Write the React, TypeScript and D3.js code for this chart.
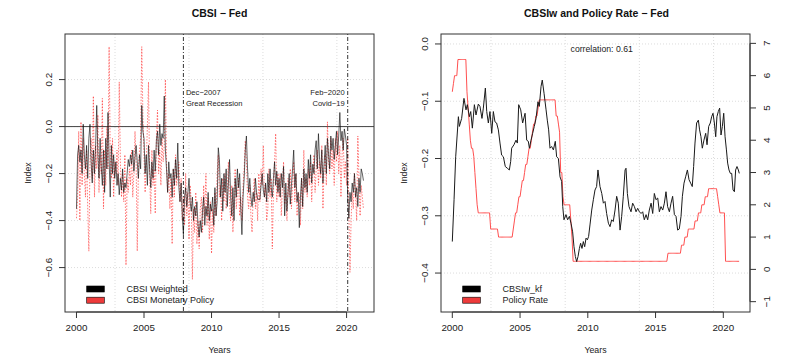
import React, { useEffect, useRef } from "react";
import * as d3 from "d3";

// monthly series, first value = Jan 2000
const START_YEAR = 2000;

const cbsiWeighted = [
  -0.35, -0.12, -0.08, -0.15, -0.1, -0.2, 0.01, -0.12, -0.18, -0.08, -0.22, -0.05,
  0.01, -0.15, -0.24, -0.1, -0.2, -0.08, 0.09, -0.12, -0.22, -0.05, -0.17, -0.25,
  -0.1, -0.28, -0.05, -0.18, 0.06, -0.14, -0.3, -0.08, -0.2, -0.12, -0.22, -0.15,
  -0.25, -0.2, -0.29, -0.22, -0.27, -0.18, -0.28, -0.24, -0.26, -0.2, -0.14, -0.17,
  -0.12, -0.16, -0.1, -0.19, -0.13, -0.08, -0.15, -0.22, -0.12, -0.18, 0.09, -0.02,
  -0.05, -0.2, -0.12, -0.25, -0.08, -0.18, -0.26, -0.15, -0.22, -0.1, -0.19, -0.06,
  -0.02, -0.12, 0.01, -0.08, -0.03, -0.05, 0.13, -0.1, -0.18, -0.28, -0.15, -0.22,
  -0.2, -0.3, -0.18, -0.25, -0.14, -0.22, -0.07, -0.26, -0.32, -0.24, -0.38, -0.46,
  -0.3, -0.26, -0.34, -0.28, -0.22, -0.32, -0.36, -0.3, -0.4, -0.34, -0.38, -0.32,
  -0.42, -0.47, -0.4, -0.45, -0.36, -0.3, -0.42, -0.34, -0.38, -0.28, -0.4, -0.33,
  -0.36, -0.3, -0.42, -0.26, -0.38, -0.32, -0.09, -0.14, -0.3, -0.22, -0.36, -0.2,
  -0.28, -0.18, -0.34, -0.24, -0.14, -0.3, -0.38, -0.26, -0.4, -0.22, -0.3, -0.18,
  -0.26, -0.2, -0.35, -0.46, -0.3, -0.22, -0.1, -0.04, -0.18, -0.28, -0.22, -0.3,
  -0.34, -0.28, -0.32, -0.22, -0.28, -0.31, -0.31, -0.31, -0.25, -0.2, -0.27, -0.3,
  -0.24, -0.32, -0.2, -0.28, -0.18, -0.26, -0.3, -0.22, -0.15, -0.25, -0.19, -0.28,
  -0.22, -0.3, -0.2, -0.26, -0.17, -0.38, -0.24, -0.36, -0.28, -0.2, -0.33, -0.25,
  -0.18, -0.1, -0.26, -0.2, -0.32, -0.28, -0.43, -0.3, -0.22, -0.34, -0.18, -0.26,
  -0.2, -0.28, -0.14, -0.22, -0.12, -0.24, -0.16, -0.2, -0.1, -0.06, -0.18, -0.03,
  -0.14, -0.2, -0.1, -0.24, -0.16, -0.08, -0.2, -0.05, -0.12, -0.18, -0.04, -0.1,
  -0.05, -0.14, -0.08, -0.02, -0.12, -0.04, 0.06, -0.06, -0.02, -0.1, -0.01, -0.04,
  -0.08, -0.3, -0.39, -0.28, -0.32, -0.24, -0.28, -0.2, -0.3, -0.26, -0.34, -0.22,
  -0.28, -0.18, -0.2, -0.23,
];

const cbsiMonetary = [
  -0.39, -0.3, -0.02, -0.4, 0.02, -0.25, -0.05, -0.2, -0.3, -0.1, -0.35, -0.53,
  -0.15, -0.05, -0.22, 0.13, -0.3, -0.08, -0.18, 0.05, -0.28, -0.12, -0.2, 0.12,
  -0.35, -0.1, -0.25, 0.0, -0.18, 0.34, -0.12, -0.22, -0.05, -0.3, -0.15, -0.2,
  -0.1, -0.25, 0.19, -0.15, -0.3, -0.2, -0.32, -0.12, -0.59, -0.22, -0.28, -0.18,
  -0.25, -0.1, -0.3, -0.2, -0.02, -0.15, -0.53, -0.18, -0.1, -0.05, 0.34, 0.05,
  -0.12, -0.28, -0.15, 0.0, 0.19, -0.2, -0.37, -0.1, -0.25, -0.18, -0.37, -0.05,
  0.07, -0.2, -0.1, -0.25, -0.05, -0.15, -0.08, 0.2, -0.15, -0.28, -0.2, -0.35,
  -0.22, -0.5, -0.18, -0.3, -0.12, -0.25, -0.2, -0.15, -0.32, -0.22, -0.4, -0.3,
  -0.42, -0.2, -0.38, -0.28, -0.48, -0.25, -0.32, -0.65, -0.35, -0.45, -0.28, -0.5,
  -0.4, -0.52, -0.35, -0.3, -0.45, -0.25, -0.38, -0.2, -0.42, -0.3, -0.48, -0.32,
  -0.54, -0.35, -0.45, -0.28, -0.38, -0.2, -0.12, -0.3, -0.25, -0.4, -0.22, -0.32,
  -0.2, -0.35, -0.28, -0.15, -0.32, -0.4, -0.25, -0.45, -0.3, -0.18, -0.35, -0.28,
  -0.22, -0.38, -0.3, -0.4, -0.25, -0.18, -0.06, -0.15, -0.3, -0.35, -0.25, -0.38,
  -0.45, -0.3, -0.22, -0.35, -0.28, -0.4, -0.2, -0.32, -0.18, -0.25, -0.08, -0.3,
  -0.25, -0.4, -0.35, -0.18, -0.3, -0.22, -0.52, -0.28, -0.15, -0.03, -0.32, -0.2,
  -0.3, -0.2, -0.38, -0.25, -0.15, -0.33, -0.28, -0.4, -0.22, -0.3, -0.18, -0.35,
  -0.25, -0.15, -0.32, -0.2, -0.38, -0.28, -0.3, -0.42, -0.22, -0.35, -0.1, -0.28,
  -0.22, -0.3, -0.18, -0.25, -0.15, -0.32, -0.2, -0.12, -0.28, -0.18, -0.1, -0.25,
  -0.15, -0.22, -0.08, -0.35, -0.18, -0.12, -0.25, 0.02, -0.15, -0.2, -0.05, -0.18,
  -0.1, -0.25, -0.05, -0.15, -0.02, -0.2, -0.08, -0.3, -0.12, -0.05, -0.22, -0.15,
  -0.25, -0.05, -0.35, -0.62, -0.4, -0.28, -0.35, -0.2, -0.3, -0.4, -0.04, -0.22,
  -0.38, -0.25, -0.3, -0.35,
];

// filtered index (decimal year, value)
const kfYears = [
  2000.0, 2000.13, 2000.25, 2000.45, 2000.52, 2000.69, 2000.86, 2001.01, 2001.11, 2001.26,
  2001.36, 2001.48, 2001.63, 2001.75, 2001.92, 2002.04, 2002.19, 2002.29, 2002.44, 2002.54,
  2002.66, 2002.78, 2002.91, 2003.03, 2003.15, 2003.27, 2003.4, 2003.52, 2003.64, 2003.77,
  2003.91, 2004.06, 2004.21, 2004.31, 2004.38, 2004.55, 2004.7, 2004.8, 2004.9, 2005.05,
  2005.19, 2005.37, 2005.49, 2005.61, 2005.69, 2005.81, 2005.93, 2006.05, 2006.18, 2006.32,
  2006.42, 2006.55, 2006.64, 2006.77, 2006.92, 2007.01, 2007.11, 2007.21, 2007.33, 2007.46,
  2007.6, 2007.7, 2007.83, 2007.95, 2008.07, 2008.15, 2008.24, 2008.39, 2008.51, 2008.64,
  2008.76, 2008.88, 2008.98, 2009.08, 2009.18, 2009.28, 2009.38, 2009.47, 2009.57, 2009.67,
  2009.77, 2009.87, 2009.97, 2010.06, 2010.16, 2010.29, 2010.41, 2010.53, 2010.65, 2010.75,
  2010.9, 2011.03, 2011.15, 2011.27, 2011.39, 2011.52, 2011.64, 2011.76, 2011.88, 2012.01,
  2012.13, 2012.25, 2012.38, 2012.5, 2012.62, 2012.75, 2012.82, 2012.92, 2013.04, 2013.19,
  2013.31, 2013.44, 2013.56, 2013.68, 2013.81, 2013.93, 2014.05, 2014.17, 2014.3, 2014.42,
  2014.54, 2014.67, 2014.79, 2014.91, 2015.03, 2015.16, 2015.28, 2015.4, 2015.53, 2015.65,
  2015.77, 2015.89, 2016.02, 2016.14, 2016.26, 2016.39, 2016.51, 2016.63, 2016.75, 2016.88,
  2016.98, 2017.1, 2017.22, 2017.35, 2017.47, 2017.59, 2017.71, 2017.81, 2017.91, 2018.03,
  2018.16, 2018.25, 2018.35, 2018.45, 2018.57, 2018.7, 2018.8, 2018.92, 2019.04, 2019.14,
  2019.24, 2019.34, 2019.44, 2019.53, 2019.63, 2019.73, 2019.83, 2019.93, 2020.03, 2020.13,
  2020.23, 2020.32, 2020.42, 2020.52, 2020.62, 2020.72, 2020.82, 2020.91, 2021.01, 2021.11,
  2021.18,
];

const kfValues = [
  -0.345, -0.272, -0.197, -0.127, -0.144, -0.13, -0.095, -0.115, -0.106, -0.127,
  -0.118, -0.147, -0.106, -0.124, -0.105, -0.109, -0.13, -0.112, -0.077, -0.118,
  -0.138, -0.118, -0.156, -0.118, -0.136, -0.138, -0.15, -0.173, -0.194, -0.197,
  -0.214, -0.217, -0.22, -0.205, -0.182, -0.176, -0.168, -0.173, -0.106, -0.115,
  -0.138, -0.121, -0.168, -0.17, -0.182, -0.168, -0.156, -0.144, -0.13, -0.101,
  -0.109, -0.074, -0.063, -0.086, -0.115, -0.133, -0.15, -0.182, -0.179, -0.185,
  -0.17, -0.197, -0.2, -0.232, -0.24, -0.284, -0.307, -0.298, -0.307, -0.301,
  -0.313, -0.328, -0.354, -0.371, -0.38, -0.371, -0.357, -0.348, -0.357, -0.345,
  -0.354, -0.339, -0.342, -0.336, -0.316, -0.29, -0.272, -0.255, -0.249, -0.22,
  -0.249, -0.261, -0.278, -0.275, -0.296, -0.313, -0.319, -0.307, -0.31, -0.29,
  -0.266, -0.278, -0.325, -0.301, -0.266, -0.22, -0.217, -0.261, -0.284, -0.293,
  -0.278, -0.284, -0.293, -0.287, -0.293, -0.296, -0.293, -0.307, -0.298, -0.307,
  -0.29, -0.278, -0.296, -0.261, -0.272, -0.269, -0.293, -0.284, -0.29, -0.278,
  -0.258, -0.284, -0.293, -0.278, -0.266, -0.298, -0.301, -0.325, -0.323, -0.301,
  -0.266, -0.243, -0.232, -0.22, -0.237, -0.243, -0.249, -0.214, -0.173, -0.138,
  -0.133, -0.15, -0.162, -0.182, -0.168, -0.156, -0.176, -0.144, -0.138, -0.127,
  -0.121, -0.138, -0.162, -0.127, -0.118, -0.112, -0.159, -0.144, -0.121, -0.162,
  -0.185, -0.208, -0.22, -0.226, -0.226, -0.255, -0.258, -0.22, -0.214, -0.22,
  -0.226,
];

// policy rate, monthly from Jan 2000
const policyRate = [
  5.5, 5.75, 6.0, 6.0, 6.0, 6.5, 6.5, 6.5, 6.5, 6.5, 6.5, 6.5,
  6.5, 5.5, 5.0, 4.5, 4.0, 3.75, 3.75, 3.5, 3.0, 2.5, 2.0, 1.75,
  1.75, 1.75, 1.75, 1.75, 1.75, 1.75, 1.75, 1.75, 1.75, 1.75, 1.25, 1.25,
  1.25, 1.25, 1.25, 1.25, 1.25, 1.0, 1.0, 1.0, 1.0, 1.0, 1.0, 1.0,
  1.0, 1.0, 1.0, 1.0, 1.0, 1.0, 1.25, 1.5, 1.75, 1.75, 2.0, 2.25,
  2.25, 2.5, 2.75, 2.75, 3.0, 3.25, 3.25, 3.5, 3.75, 3.75, 4.0, 4.25,
  4.5, 4.5, 4.75, 4.75, 5.0, 5.25, 5.25, 5.25, 5.25, 5.25, 5.25, 5.25,
  5.25, 5.25, 5.25, 5.25, 5.25, 5.25, 5.25, 5.25, 4.75, 4.75, 4.5, 4.25,
  3.0, 3.0, 2.25, 2.0, 2.0, 2.0, 2.0, 2.0, 2.0, 1.5, 1.0, 0.25,
  0.25, 0.25, 0.25, 0.25, 0.25, 0.25, 0.25, 0.25, 0.25, 0.25, 0.25, 0.25,
  0.25, 0.25, 0.25, 0.25, 0.25, 0.25, 0.25, 0.25, 0.25, 0.25, 0.25, 0.25,
  0.25, 0.25, 0.25, 0.25, 0.25, 0.25, 0.25, 0.25, 0.25, 0.25, 0.25, 0.25,
  0.25, 0.25, 0.25, 0.25, 0.25, 0.25, 0.25, 0.25, 0.25, 0.25, 0.25, 0.25,
  0.25, 0.25, 0.25, 0.25, 0.25, 0.25, 0.25, 0.25, 0.25, 0.25, 0.25, 0.25,
  0.25, 0.25, 0.25, 0.25, 0.25, 0.25, 0.25, 0.25, 0.25, 0.25, 0.25, 0.25,
  0.25, 0.25, 0.25, 0.25, 0.25, 0.25, 0.25, 0.25, 0.25, 0.25, 0.25, 0.5,
  0.5, 0.5, 0.5, 0.5, 0.5, 0.5, 0.5, 0.5, 0.5, 0.5, 0.5, 0.75,
  0.75, 0.75, 1.0, 1.0, 1.0, 1.25, 1.25, 1.25, 1.25, 1.25, 1.25, 1.5,
  1.5, 1.5, 1.75, 1.75, 1.75, 2.0, 2.0, 2.0, 2.25, 2.25, 2.25, 2.5,
  2.5, 2.5, 2.5, 2.5, 2.5, 2.5, 2.5, 2.25, 2.0, 1.75, 1.75, 1.75,
  1.75, 1.75, 0.25, 0.25, 0.25, 0.25, 0.25, 0.25, 0.25, 0.25, 0.25, 0.25,
  0.25, 0.25, 0.25,
];

const yearTicks = [2000, 2005, 2010, 2015, 2020];
const gridDays = [12000, 14000, 16000, 18000]; // R grid() on a Date axis
const leftTicks = [0.2, 0, -0.2, -0.4, -0.6];
const rightTicks = [0, -0.1, -0.2, -0.3, -0.4];
const rateTicks = [-1, 0, 1, 2, 3, 4, 5, 6, 7];
const events = [
  { year: 2007.917, line1: "Dec\u22122007", line2: "Great Recession", anchor: "start" },
  { year: 2020.083, line1: "Feb\u22122020", line2: "Covid\u221219", anchor: "end" },
];

const FONT = "'Liberation Sans', Arial, Helvetica, sans-serif";
const TXT = "#222";
const monthYear = (i) => START_YEAR + i / 12;
const dayYear = (d) => 1970 + d / 365.25;

const W = 793;
const H = 362;
const top = 34;
const bottom = 312;

const App = () => {
  const svgRef = useRef();

  useEffect(() => {
    const svg = d3.select(svgRef.current);
    svg.selectAll("*").remove();

    const rotText = (g, x, y, txt, size) =>
      g
        .append("text")
        .attr("transform", `translate(${x},${y}) rotate(-90)`)
        .attr("text-anchor", "middle")
        .attr("fill", TXT)
        .style("font-size", `${size}px`)
        .style("font-family", FONT)
        .text(txt);

    const panel = (x0, x1, xDomain, yDomain, yTicks, fmt, id) => {
      const g = svg.append("g");
      const x = d3.scaleLinear().domain(xDomain).range([x0, x1]);
      const y = d3.scaleLinear().domain(yDomain).range([bottom, top]);

      svg
        .append("defs")
        .append("clipPath")
        .attr("id", id)
        .append("rect")
        .attr("x", x0)
        .attr("y", top)
        .attr("width", x1 - x0)
        .attr("height", bottom - top);

      // grid
      g.selectAll(".vg")
        .data(gridDays)
        .enter()
        .append("line")
        .attr("x1", (d) => x(dayYear(d)))
        .attr("x2", (d) => x(dayYear(d)))
        .attr("y1", top)
        .attr("y2", bottom)
        .attr("stroke", "#dcdcdc")
        .attr("stroke-dasharray", "1,2");
      g.selectAll(".hg")
        .data(yTicks)
        .enter()
        .append("line")
        .attr("x1", x0)
        .attr("x2", x1)
        .attr("y1", (d) => y(d))
        .attr("y2", (d) => y(d))
        .attr("stroke", "#dcdcdc")
        .attr("stroke-dasharray", "1,2");

      // x axis
      g.append("line")
        .attr("x1", x(yearTicks[0]))
        .attr("x2", x(yearTicks[yearTicks.length - 1]))
        .attr("y1", bottom)
        .attr("y2", bottom)
        .attr("stroke", "#333");
      yearTicks.forEach((t) => {
        g.append("line")
          .attr("x1", x(t))
          .attr("x2", x(t))
          .attr("y1", bottom)
          .attr("y2", bottom + 6)
          .attr("stroke", "#333");
        g.append("text")
          .attr("x", x(t))
          .attr("y", 331)
          .attr("text-anchor", "middle")
          .attr("fill", TXT)
          .style("font-size", "9.8px")
          .style("font-family", FONT)
          .text(t);
      });

      // left y axis
      yTicks.forEach((t) => {
        g.append("line")
          .attr("x1", x0 - 6)
          .attr("x2", x0)
          .attr("y1", y(t))
          .attr("y2", y(t))
          .attr("stroke", "#333");
        rotText(g, x0 - 13.5, y(t), fmt(t), 9.8);
      });

      // axis titles
      g.append("text")
        .attr("x", (x0 + x1) / 2)
        .attr("y", 353)
        .attr("text-anchor", "middle")
        .attr("fill", TXT)
        .style("font-size", "8.8px")
        .style("font-family", FONT)
        .text("Years");
      rotText(g, x0 - 34, (top + bottom) / 2, "Index", 8.8);

      return { g, x, y };
    };

    // ---------- left panel ----------
    const L = panel(65, 374, [1999.15, 2022.03], [-0.789, 0.394], leftTicks, d3.format(".1f"), "clipL");

    L.g.append("line")
      .attr("x1", 65)
      .attr("x2", 374)
      .attr("y1", L.y(0))
      .attr("y2", L.y(0))
      .attr("stroke", "#444")
      .attr("stroke-width", 1);

    const lineL = d3
      .line()
      .x((d, i) => L.x(monthYear(i)))
      .y((d) => L.y(d));

    L.g.append("path")
      .datum(cbsiMonetary)
      .attr("d", lineL)
      .attr("clip-path", "url(#clipL)")
      .attr("fill", "none")
      .attr("stroke", "#ff2020")
      .attr("stroke-opacity", 0.6)
      .attr("stroke-width", 1)
      .attr("stroke-dasharray", "1.5,1.5");

    L.g.append("path")
      .datum(cbsiWeighted)
      .attr("d", lineL)
      .attr("clip-path", "url(#clipL)")
      .attr("fill", "none")
      .attr("stroke", "#111")
      .attr("stroke-opacity", 0.72)
      .attr("stroke-width", 0.9);

    events.forEach((e) => {
      const ex = L.x(e.year);
      L.g.append("line")
        .attr("x1", ex)
        .attr("x2", ex)
        .attr("y1", top)
        .attr("y2", bottom)
        .attr("stroke", "#000")
        .attr("stroke-width", 0.8)
        .attr("stroke-dasharray", "1,2,4,2");
      const tx = e.anchor === "start" ? ex + 2.5 : ex - 3;
      [e.line1, e.line2].forEach((s, k) => {
        L.g.append("text")
          .attr("x", tx)
          .attr("y", 94.5 + k * 11)
          .attr("text-anchor", e.anchor)
          .attr("fill", TXT)
          .style("font-size", "7.6px")
          .style("font-family", FONT)
          .text(s);
      });
    });

    // ---------- right panel ----------
    const R = panel(441, 750, [1999.166, 2021.97], [-0.468, 0.0174], rightTicks, d3.format(".1f"), "clipR");
    const yRate = d3.scaleLinear().domain([-1.32, 7.29]).range([bottom, top]);

    R.g.append("line")
      .attr("x1", 750)
      .attr("x2", 750)
      .attr("y1", yRate(-1))
      .attr("y2", yRate(7))
      .attr("stroke", "#333");
    rateTicks.forEach((t) => {
      R.g.append("line")
        .attr("x1", 750)
        .attr("x2", 756)
        .attr("y1", yRate(t))
        .attr("y2", yRate(t))
        .attr("stroke", "#333");
      rotText(R.g, 770, yRate(t), t < 0 ? `\u2212${-t}` : `${t}`, 9.8);
    });

    R.g.append("path")
      .datum(policyRate)
      .attr(
        "d",
        d3
          .line()
          .x((d, i) => R.x(monthYear(i)))
          .y((d) => yRate(d))
      )
      .attr("clip-path", "url(#clipR)")
      .attr("fill", "none")
      .attr("stroke", "#ff5050")
      .attr("stroke-width", 1);

    R.g.append("path")
      .datum(kfValues)
      .attr(
        "d",
        d3
          .line()
          .x((d, i) => R.x(kfYears[i]))
          .y((d) => R.y(d))
      )
      .attr("clip-path", "url(#clipR)")
      .attr("fill", "none")
      .attr("stroke", "#1a1a1a")
      .attr("stroke-width", 1);

    R.g.append("text")
      .attr("x", 601.7)
      .attr("y", 52)
      .attr("text-anchor", "middle")
      .attr("fill", TXT)
      .style("font-size", "8.7px")
      .style("font-family", FONT)
      .text("correlation: 0.61");

    // boxes
    [[65, 374], [441, 750]].forEach(([a, b]) => {
      svg
        .append("rect")
        .attr("x", a)
        .attr("y", top)
        .attr("width", b - a)
        .attr("height", bottom - top)
        .attr("fill", "none")
        .attr("stroke", "#333")
        .attr("stroke-width", 1);
    });

    // legends
    const legend = (x0, items) => {
      items.forEach(([label, col], k) => {
        const cy = 289 + k * 11.2;
        svg
          .append("rect")
          .attr("x", x0 + 21.7)
          .attr("y", cy - 3)
          .attr("width", 17.6)
          .attr("height", 6)
          .attr("fill", col)
          .attr("stroke", "#000")
          .attr("stroke-width", 0.6);
        svg
          .append("text")
          .attr("x", x0 + 61.5)
          .attr("y", cy + 3.2)
          .attr("fill", TXT)
          .style("font-size", "9px")
          .style("font-family", FONT)
          .text(label);
      });
    };
    legend(65, [["CBSI Weighted", "#000"], ["CBSI Monetary Policy", "#ee3b3b"]]);
    legend(441, [["CBSIw_kf", "#000"], ["Policy Rate", "#ee3b3b"]]);

    // titles
    [
      [219.5, "CBSI \u2212 Fed"],
      [596.5, "CBSIw and Policy Rate \u2212 Fed"],
    ].forEach(([cx, t]) => {
      svg
        .append("text")
        .attr("x", cx)
        .attr("y", 16.5)
        .attr("text-anchor", "middle")
        .attr("fill", "#111")
        .style("font-size", "10.5px")
        .style("font-weight", "bold")
        .style("font-family", FONT)
        .text(t);
    });
  }, []);

  return (
    <svg
      ref={svgRef}
      width={W}
      height={H}
      style={{ position: "absolute", left: 0, top: 0, background: "#fff" }}
    />
  );
};

export default App;
